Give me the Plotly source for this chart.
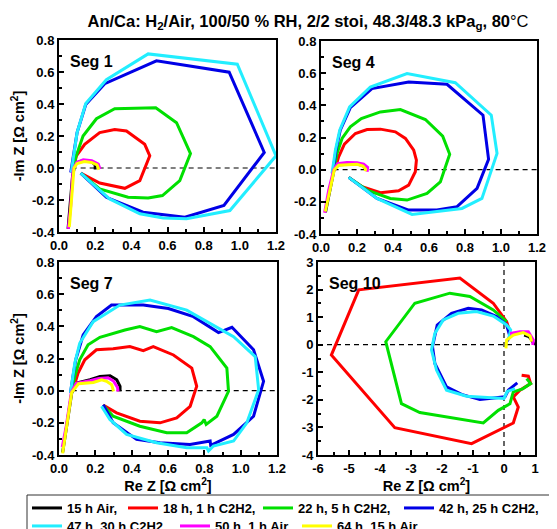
import plotly.graph_objects as go

# The page body has an 8px margin, so the figure is drawn 8px in from the window corner.
W, H = 549, 521
FONT = "Liberation Sans, Arial, sans-serif"

SERIES = ["15 h Air,", "18 h, 1 h C2H2,", "22 h, 5 h C2H2,", "42 h, 25 h C2H2,",
          "47 h, 30 h C2H2", "50 h, 1 h Air", "64 h, 15 h Air"]
COLORS = ["#000000", "#FF0000", "#00E000", "#0000E6", "#22EEFF", "#FF00FF", "#FFFF00"]

# tick values / labels
TICK_SMALL = [-0.4, -0.2, 0.0, 0.2, 0.4, 0.6, 0.8, 1.0, 1.2]
TICK_SMALL_TXT = ["-0.4", "-0.2", "0.0", "0.2", "0.4", "0.6", "0.8", "1.0", "1.2"]
TICK_BIG = [-6, -5, -4, -3, -2, -1, 0, 1, 2, 3]
TICK_BIG_TXT = ["-6", "-5", "-4", "-3", "-2", "-1", "0", "1", "2", "3"]

# ---------------- Seg 1 ----------------
s1_k_x = [0.05, 0.062, 0.075, 0.09, 0.13, 0.18, 0.2, 0.2]
s1_k_y = [-0.38, -0.2, -0.05, 0.03, 0.045, 0.04, 0.02, -0.01]
s1_r_x = [0.12, 0.225, 0.364, 0.447, 0.502, 0.474, 0.373, 0.308, 0.225, 0.142, 0.096, 0.078]
s1_r_y = [-0.032, -0.094, -0.127, -0.079, 0.076, 0.148, 0.231, 0.241, 0.221, 0.148, 0.076, -0.017]
s1_g_x = [0.12, 0.225, 0.382, 0.493, 0.572, 0.668, 0.727, 0.65, 0.535, 0.308, 0.207, 0.133, 0.092, 0.078]
s1_g_y = [-0.032, -0.131, -0.183, -0.187, -0.172, -0.079, 0.09, 0.283, 0.376, 0.37, 0.308, 0.2, 0.065, -0.017]
s1_b_x = [0.12, 0.262, 0.465, 0.696, 0.912, 1.135, 0.941, 0.539, 0.253, 0.148, 0.1, 0.078, 0.065]
s1_b_y = [-0.032, -0.183, -0.276, -0.307, -0.234, 0.097, 0.599, 0.67, 0.527, 0.397, 0.221, 0.055, -0.028]
s1_c_x = [0.12, 0.28, 0.447, 0.576, 0.705, 0.945, 1.2, 0.986, 0.493, 0.262, 0.148, 0.1, 0.081, 0.068]
s1_c_y = [-0.032, -0.193, -0.286, -0.313, -0.317, -0.266, 0.076, 0.649, 0.713, 0.552, 0.403, 0.221, 0.076, -0.028]
s1_m_x = [0.051, 0.065, 0.074, 0.079, 0.098, 0.134, 0.181, 0.217, 0.227]
s1_m_y = [-0.38, -0.235, -0.069, -0.007, 0.035, 0.051, 0.045, 0.024, -0.007]
s1_y_x = [0.057, 0.068, 0.077, 0.083, 0.1, 0.14, 0.18, 0.21, 0.22]
s1_y_y = [-0.37, -0.22, -0.06, 0.0, 0.028, 0.04, 0.035, 0.02, -0.01]

# ---------------- Seg 4 ----------------
s4_k_x = [0.025, 0.05, 0.072, 0.095, 0.15, 0.2, 0.235, 0.25]
s4_k_y = [-0.265, -0.12, -0.003, 0.03, 0.035, 0.035, 0.025, 0.0]
s4_r_x = [0.154, 0.228, 0.33, 0.431, 0.487, 0.524, 0.53, 0.515, 0.469, 0.413, 0.33, 0.256, 0.191, 0.13, 0.098, 0.076]
s4_r_y = [-0.048, -0.106, -0.143, -0.131, -0.096, -0.013, 0.059, 0.121, 0.194, 0.235, 0.252, 0.25, 0.225, 0.159, 0.08, -0.003]
s4_g_x = [0.154, 0.256, 0.385, 0.478, 0.589, 0.663, 0.715, 0.676, 0.58, 0.441, 0.33, 0.224, 0.163, 0.117, 0.089, 0.07]
s4_g_y = [-0.048, -0.127, -0.179, -0.189, -0.148, -0.076, 0.096, 0.208, 0.312, 0.374, 0.359, 0.318, 0.266, 0.194, 0.1, -0.003]
s4_b_x = [0.154, 0.311, 0.487, 0.644, 0.756, 0.867, 0.931, 0.9, 0.7, 0.487, 0.283, 0.163, 0.107, 0.083, 0.065]
s4_b_y = [-0.048, -0.179, -0.251, -0.251, -0.23, -0.116, 0.064, 0.339, 0.531, 0.545, 0.504, 0.386, 0.245, 0.121, -0.024]
s4_c_x = [0.154, 0.311, 0.506, 0.644, 0.783, 0.894, 0.978, 0.946, 0.746, 0.478, 0.274, 0.159, 0.104, 0.08, 0.061]
s4_c_y = [-0.048, -0.179, -0.278, -0.261, -0.241, -0.179, 0.101, 0.339, 0.541, 0.597, 0.514, 0.39, 0.245, 0.121, -0.024]
s4_m_x = [0.02, 0.043, 0.07, 0.093, 0.144, 0.2, 0.237, 0.259, 0.256]
s4_m_y = [-0.268, -0.127, -0.003, 0.038, 0.045, 0.043, 0.035, 0.014, -0.013]
s4_y_x = [0.024, 0.052, 0.074, 0.098, 0.144, 0.2, 0.233, 0.248, 0.246]
s4_y_y = [-0.26, -0.11, 0.0, 0.027, 0.032, 0.034, 0.022, 0.003, -0.01]

# ---------------- Seg 7 ----------------
s7_k_x = [0.02, 0.042, 0.07, 0.097, 0.171, 0.226, 0.281, 0.318, 0.336, 0.336]
s7_k_y = [-0.385, -0.221, -0.014, 0.048, 0.068, 0.088, 0.093, 0.068, 0.027, -0.004]
s7_r_x = [0.243, 0.317, 0.445, 0.556, 0.648, 0.722, 0.758, 0.731, 0.63, 0.519, 0.464, 0.39, 0.298, 0.206, 0.142, 0.105, 0.077]
s7_r_y = [-0.09, -0.138, -0.19, -0.2, -0.169, -0.097, 0.027, 0.14, 0.222, 0.274, 0.249, 0.274, 0.26, 0.254, 0.192, 0.109, 0.006]
s7_g_x = [0.243, 0.298, 0.445, 0.593, 0.703, 0.786, 0.799, 0.81, 0.869, 0.933, 0.924, 0.832, 0.74, 0.62, 0.537, 0.445, 0.363, 0.225, 0.16, 0.114, 0.087, 0.068]
s7_g_y = [-0.09, -0.159, -0.221, -0.262, -0.262, -0.2, -0.18, -0.21, -0.159, -0.004, 0.14, 0.274, 0.336, 0.392, 0.367, 0.398, 0.377, 0.332, 0.285, 0.192, 0.089, -0.004]
s7_b_x = [0.243, 0.298, 0.427, 0.556, 0.721, 0.832, 0.835, 0.961, 1.071, 1.126, 1.071, 0.952, 0.878, 0.74, 0.602, 0.464, 0.289, 0.206, 0.133, 0.092, 0.077, 0.063]
s7_b_y = [-0.087, -0.2, -0.303, -0.324, -0.334, -0.313, -0.34, -0.272, -0.159, 0.058, 0.254, 0.394, 0.361, 0.46, 0.511, 0.532, 0.532, 0.46, 0.346, 0.192, 0.089, -0.014]
s7_c_x = [0.234, 0.28, 0.372, 0.537, 0.703, 0.814, 0.823, 0.85, 0.961, 1.034, 1.099, 1.08, 0.961, 0.795, 0.703, 0.501, 0.335, 0.188, 0.114, 0.087, 0.074, 0.063]
s7_c_y = [-0.097, -0.179, -0.272, -0.324, -0.355, -0.355, -0.375, -0.344, -0.313, -0.2, 0.006, 0.212, 0.336, 0.439, 0.501, 0.563, 0.532, 0.429, 0.295, 0.171, 0.068, -0.014]
s7_m_x = [0.018, 0.04, 0.068, 0.095, 0.17, 0.22, 0.27, 0.3, 0.322, 0.325]
s7_m_y = [-0.35, -0.22, -0.01, 0.045, 0.062, 0.075, 0.08, 0.06, 0.02, -0.005]
s7_y_x = [0.02, 0.044, 0.07, 0.107, 0.189, 0.235, 0.262, 0.29, 0.3]
s7_y_y = [-0.39, -0.2, -0.01, 0.043, 0.051, 0.068, 0.058, 0.037, -0.004]

# ---------------- Seg 10 ----------------
s10_k_x = [0.65, 0.8, 0.9, 0.97]
s10_k_y = [0.35, 0.3, 0.17, 0.01]
s10_r_x = [0.569, 0.785, 0.86, 0.515, 0.3, 0.461, 0.3, -0.077, -1.046, -3.523, -5.569, -4.686, -1.423, -0.346, 0.085, 0.192]
s10_r_y = [-1.104, -1.14, -1.41, -1.65, -1.89, -2.26, -2.84, -3.05, -3.59, -3.01, -0.376, 1.99, 2.415, 1.505, 0.837, 0.473]
s10_g_x = [0.73, 0.86, 0.6, 0.3, 0.192, -0.185, -0.669, -2.716, -3.308, -3.814, -2.877, -1.746, -1.1, -0.346, 0.085]
s10_g_y = [-1.23, -1.41, -1.6, -1.71, -2.14, -2.38, -2.84, -2.46, -2.14, 0.109, 1.505, 1.869, 1.748, 1.262, 0.837]
s10_b_x = [0.429, 0.138, 0.03, -0.777, -1.369, -1.854, -2.23, -2.306, -2.155, -1.692, -1.154, -0.723, -0.238, 0.085, 0.192, 0.085]
s10_b_y = [-1.383, -1.65, -1.89, -1.99, -1.8, -1.53, -0.68, -0.07, 0.716, 1.14, 1.32, 1.262, 1.019, 0.716, 0.291, 0.109]
s10_c_x = [0.354, 0.1, -0.002, -1.208, -1.854, -2.177, -2.339, -2.23, -1.961, -1.477, -0.885, -0.346, 0.085, 0.214, 0.138]
s10_c_y = [-1.59, -1.7, -1.95, -1.87, -1.65, -0.92, -0.19, 0.41, 0.9, 1.14, 1.2, 1.04, 0.716, 0.534, 0.17]
s10_m_x = [0.192, 0.515, 0.785, 0.946, 0.925]
s10_m_y = [0.41, 0.473, 0.473, 0.17, -0.012]
s10_y_x = [0.063, 0.085, 0.3, 0.62, 0.84, 0.89]
s10_y_y = [-0.13, 0.17, 0.35, 0.44, 0.32, 0.11]

SEGS = [
    [(s1_k_x, s1_k_y), (s1_r_x, s1_r_y), (s1_g_x, s1_g_y), (s1_b_x, s1_b_y),
     (s1_c_x, s1_c_y), (s1_m_x, s1_m_y), (s1_y_x, s1_y_y)],
    [(s4_k_x, s4_k_y), (s4_r_x, s4_r_y), (s4_g_x, s4_g_y), (s4_b_x, s4_b_y),
     (s4_c_x, s4_c_y), (s4_m_x, s4_m_y), (s4_y_x, s4_y_y)],
    [(s7_k_x, s7_k_y), (s7_r_x, s7_r_y), (s7_g_x, s7_g_y), (s7_b_x, s7_b_y),
     (s7_c_x, s7_c_y), (s7_m_x, s7_m_y), (s7_y_x, s7_y_y)],
    [(s10_k_x, s10_k_y), (s10_r_x, s10_r_y), (s10_g_x, s10_g_y), (s10_b_x, s10_b_y),
     (s10_c_x, s10_c_y), (s10_m_x, s10_m_y), (s10_y_x, s10_y_y)],
]
SEG_LABELS = ["Seg 1", "Seg 4", "Seg 7", "Seg 10"]

# layout (figure pixels)
BOXES = [(51, 268, 32, 224), (313, 529, 33, 226), (51, 269, 254, 447), (310, 527, 254, 447)]
LEG_POS = [(24, 485), (120, 485), (255, 485), (396, 485), (24, 503), (172, 503), (294, 503)]

fig = go.Figure()
for i, seg in enumerate(SEGS):
    ax = "" if i == 0 else str(i + 1)
    for j, (xs, ys) in enumerate(seg):
        fig.add_trace(go.Scatter(
            x=xs, y=ys, mode="lines", name="<b>" + SERIES[j] + "</b>", legendgroup=SERIES[j],
            legend="legend" if j == 0 else "legend" + str(j + 1),
            showlegend=(i == 0), line=dict(color=COLORS[j], width=3),
            xaxis="x" + ax, yaxis="y" + ax, hoverinfo="skip"))

tickfont = dict(family=FONT, size=13, color="black")
titlefont = dict(family=FONT, size=14.5, color="black")
axis_common = dict(showline=True, linewidth=2, linecolor="black", mirror=True,
                   ticks="inside", ticklen=5, tickwidth=1.5, tickcolor="black",
                   showgrid=False, zeroline=False, tickfont=tickfont, automargin=False)


def bold(lst):
    return ["<b>" + s + "</b>" for s in lst]


layout = {}
for i, (l, r, t, b) in enumerate(BOXES):
    ax = "" if i == 0 else str(i + 1)
    xd = [l / W, r / W]
    yd = [1 - b / H, 1 - t / H]
    if i < 3:
        xa = dict(range=[0, 1.2], tickmode="array", tickvals=TICK_SMALL[2:], ticktext=bold(TICK_SMALL_TXT[2:]),
                  minor=dict(ticks="inside", ticklen=3, dtick=0.1, tickcolor="black"))
        ya = dict(range=[-0.4, 0.8], tickmode="array", tickvals=TICK_SMALL[:7], ticktext=bold(TICK_SMALL_TXT[:7]),
                  minor=dict(ticks="inside", ticklen=3, dtick=0.1, tickcolor="black"))
    else:
        xa = dict(range=[-6, 1], tickmode="array", tickvals=TICK_BIG[:8], ticktext=bold(TICK_BIG_TXT[:8]),
                  minor=dict(ticks="inside", ticklen=3, dtick=0.5, tickcolor="black"))
        ya = dict(range=[-4, 3], tickmode="array", tickvals=TICK_BIG[2:], ticktext=bold(TICK_BIG_TXT[2:]),
                  minor=dict(ticks="inside", ticklen=3, dtick=0.5, tickcolor="black"))
    xa.update(axis_common, domain=xd, anchor="y" + ax)
    ya.update(axis_common, domain=yd, anchor="x" + ax)
    if i >= 2:
        xa["title"] = dict(text="<b>Re Z [Ω cm<sup>2</sup>]</b>", font=titlefont, standoff=2)
    if i in (0, 2):
        ya["title"] = dict(text="<b>-Im Z [Ω cm<sup>2</sup>]</b>", font=titlefont, standoff=4)
    layout["xaxis" + ax] = xa
    layout["yaxis" + ax] = ya

fig.update_layout(**layout)

# dashed zero reference lines
DASH = "5px,4px"
shapes = []
for i in range(3):
    ax = "" if i == 0 else str(i + 1)
    shapes.append(dict(type="line", xref="x" + ax, yref="y" + ax, x0=0.07, x1=1.2, y0=0, y1=0,
                       line=dict(color="black", width=1.2, dash=DASH), layer="below"))
shapes.append(dict(type="line", xref="x4", yref="y4", x0=-6, x1=1, y0=0, y1=0,
                   line=dict(color="black", width=1.2, dash=DASH), layer="below"))
shapes.append(dict(type="line", xref="x4", yref="y4", x0=0, x1=0, y0=-4, y1=3,
                   line=dict(color="black", width=1.2, dash=DASH), layer="below"))
# legend frame
shapes.append(dict(type="rect", xref="paper", yref="paper", x0=19 / W, x1=543 / W,
                   y0=-0.1, y1=1 - 487 / H, line=dict(color="#333333", width=1),
                   fillcolor="rgba(0,0,0,0)", layer="above"))

annotations = []
for i, lab in enumerate(SEG_LABELS):
    ax = "" if i == 0 else str(i + 1)
    annotations.append(dict(text="<b>" + lab + "</b>", xref="x" + ax + " domain", yref="y" + ax + " domain",
                            x=0.04, y=0.89, xanchor="left", yanchor="middle", showarrow=False,
                            font=dict(family=FONT, size=16, color="black")))

legfont = dict(family=FONT, size=13, color="black")
legends = {}
for j, (lx, ly) in enumerate(LEG_POS):
    key = "legend" if j == 0 else "legend" + str(j + 1)
    legends[key] = dict(orientation="h", x=(lx - 5) / W, y=1 - ly / H, xanchor="left", yanchor="top",
                        borderwidth=0, bgcolor="rgba(0,0,0,0)", font=legfont,
                        itemwidth=30, tracegroupgap=0)

fig.update_layout(
    width=W, height=H, margin=dict(l=0, r=0, t=0, b=0, autoexpand=False),
    paper_bgcolor="white", plot_bgcolor="white",
    shapes=shapes, annotations=annotations,
    title=dict(text="<b>An/Ca: H<sub>2</sub>/Air, 100/50 % RH, 2/2 stoi, 48.3/48.3 kPa<sub>g</sub>, 80</b>°C",
               x=300 / W, y=1 - 13 / H, xanchor="center", yanchor="middle",
               font=dict(family=FONT, size=16.5, color="black")),
    showlegend=True,
    **legends,
)

fig.write_html("out.html")
